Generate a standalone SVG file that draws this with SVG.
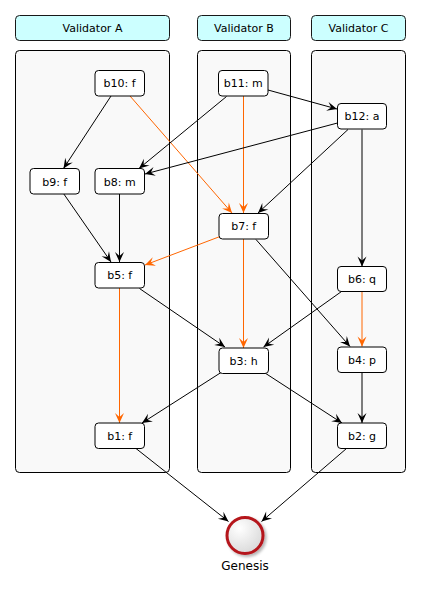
<svg xmlns="http://www.w3.org/2000/svg" width="421" height="594" viewBox="0 0 421 594">
  <defs>
    <style>
      .hdr { fill: #ccffff; stroke: #181818; stroke-width: 1; }
      .lane { fill: #f9f9f9; stroke: #000; stroke-width: 1; }
      .node { fill: #ffffff; stroke: #000; stroke-width: 1; }
      text { font-family: "DejaVu Sans", Verdana, sans-serif; font-size: 11px; fill: #000; text-anchor: middle; }
      .edge { fill: none; stroke: #000; stroke-width: 1; marker-end: url(#arrow); }
      .edge.fin { stroke: #ff6600; marker-end: url(#arrow-o); }
    </style>
    <marker id="arrow" viewBox="-11 -5 12 10" refX="0" refY="0" markerWidth="12" markerHeight="10" markerUnits="userSpaceOnUse" orient="auto">
      <path d="M0,0 L-10,-4.5 L-6,0 L-10,4.5 Z" fill="#000"/>
    </marker>
    <marker id="arrow-o" viewBox="-11 -5 12 10" refX="0" refY="0" markerWidth="12" markerHeight="10" markerUnits="userSpaceOnUse" orient="auto">
      <path d="M0,0 L-10,-4.5 L-6,0 L-10,4.5 Z" fill="#ff6600"/>
    </marker>
    <radialGradient id="genFill" cx="0.35" cy="0.3" r="0.8">
      <stop offset="0" stop-color="#ffffff"/>
      <stop offset="1" stop-color="#d6d6d6"/>
    </radialGradient>
    <filter id="shadow" x="-30%" y="-30%" width="170%" height="170%">
      <feGaussianBlur in="SourceAlpha" stdDeviation="1.5"/>
      <feOffset dx="2" dy="2" result="b"/>
      <feComponentTransfer><feFuncA type="linear" slope="0.3"/></feComponentTransfer>
      <feMerge><feMergeNode/><feMergeNode in="SourceGraphic"/></feMerge>
    </filter>
  </defs>

  <!-- validator lanes -->
  <g id="validator-a">
    <rect class="hdr" x="15.5" y="15.5" width="154" height="25" rx="4"/>
    <text x="92.5" y="32">Validator A</text>
    <rect class="lane" x="15.5" y="50.5" width="154" height="422" rx="4"/>
  </g>
  <g id="validator-b">
    <rect class="hdr" x="197.5" y="15.5" width="93" height="25" rx="4"/>
    <text x="244" y="32">Validator B</text>
    <rect class="lane" x="197.5" y="50.5" width="93" height="422" rx="4"/>
  </g>
  <g id="validator-c">
    <rect class="hdr" x="311.5" y="15.5" width="94" height="25" rx="4"/>
    <text x="358.5" y="32">Validator C</text>
    <rect class="lane" x="311.5" y="50.5" width="94" height="422" rx="4"/>
  </g>

  <!-- connectors -->
  <g id="edges">
    <line class="edge" x1="111" y1="96" x2="63.5" y2="168.5"/>
    <line class="edge fin" x1="130" y1="96" x2="232" y2="213"/>
    <line class="edge" x1="226.5" y1="96.5" x2="139" y2="168.5"/>
    <line class="edge" x1="268" y1="90" x2="337" y2="109"/>
    <line class="edge fin" x1="243.5" y1="96" x2="243.5" y2="213"/>
    <line class="edge" x1="337.5" y1="123" x2="145" y2="174"/>
    <line class="edge" x1="348" y1="129.5" x2="258" y2="213"/>
    <line class="edge" x1="362" y1="129.5" x2="362" y2="266.5"/>
    <line class="edge" x1="63.5" y1="193.5" x2="111" y2="262"/>
    <line class="edge" x1="119.5" y1="194" x2="119.5" y2="262"/>
    <line class="edge fin" x1="220" y1="236.5" x2="145" y2="265"/>
    <line class="edge fin" x1="243.5" y1="239" x2="243.5" y2="348"/>
    <line class="edge" x1="256" y1="239.5" x2="350" y2="346.5"/>
    <line class="edge" x1="341.5" y1="291.5" x2="263.5" y2="347"/>
    <line class="edge fin" x1="362" y1="291" x2="362" y2="346.5"/>
    <line class="edge" x1="139.5" y1="288.5" x2="225" y2="347"/>
    <line class="edge fin" x1="119.5" y1="288" x2="119.5" y2="423"/>
    <line class="edge" x1="221" y1="372.5" x2="142" y2="423"/>
    <line class="edge" x1="265" y1="373" x2="342" y2="423"/>
    <line class="edge" x1="362" y1="372.5" x2="362" y2="423"/>
    <line class="edge" x1="136" y1="448.5" x2="228.5" y2="521.5"/>
    <line class="edge" x1="346.5" y1="448.5" x2="261.5" y2="521.5"/>
  </g>

  <!-- blocks -->
  <g id="b10"><rect class="node" x="95" y="70.5" width="49.5" height="25.5" rx="3.5"/><text x="119.5" y="87">b10: f</text></g>
  <g id="b11"><rect class="node" x="218.5" y="70.5" width="49.5" height="25.5" rx="3.5"/><text x="243.3" y="87">b11: m</text></g>
  <g id="b12"><rect class="node" x="337.5" y="103.5" width="49" height="25.5" rx="3.5"/><text x="362" y="120">b12: a</text></g>
  <g id="b9"><rect class="node" x="30" y="168.5" width="49.5" height="25.5" rx="3.5"/><text x="54.7" y="185.5">b9: f</text></g>
  <g id="b8"><rect class="node" x="95" y="168.5" width="49.5" height="25.5" rx="3.5"/><text x="119.7" y="185.5">b8: m</text></g>
  <g id="b7"><rect class="node" x="219" y="213.5" width="49.5" height="25.5" rx="3.5"/><text x="243.7" y="230">b7: f</text></g>
  <g id="b5"><rect class="node" x="95" y="262.5" width="49.5" height="25.5" rx="3.5"/><text x="119.7" y="279">b5: f</text></g>
  <g id="b6"><rect class="node" x="337.5" y="266.5" width="49" height="25" rx="3.5"/><text x="362" y="283">b6: q</text></g>
  <g id="b3"><rect class="node" x="219" y="348" width="49.5" height="25.5" rx="3.5"/><text x="243.7" y="365">b3: h</text></g>
  <g id="b4"><rect class="node" x="337.5" y="347" width="49" height="25.5" rx="3.5"/><text x="362" y="364">b4: p</text></g>
  <g id="b1"><rect class="node" x="95" y="423" width="49.5" height="25.5" rx="3.5"/><text x="119.7" y="440">b1: f</text></g>
  <g id="b2"><rect class="node" x="337.5" y="423" width="49" height="25.5" rx="3.5"/><text x="362" y="440">b2: g</text></g>

  <!-- genesis block -->
  <g id="genesis">
    <circle cx="245" cy="535.5" r="18" fill="url(#genFill)" stroke="#b5151b" stroke-width="3" filter="url(#shadow)"/>
    <text x="245" y="570" style="font-size:12px">Genesis</text>
  </g>
</svg>
